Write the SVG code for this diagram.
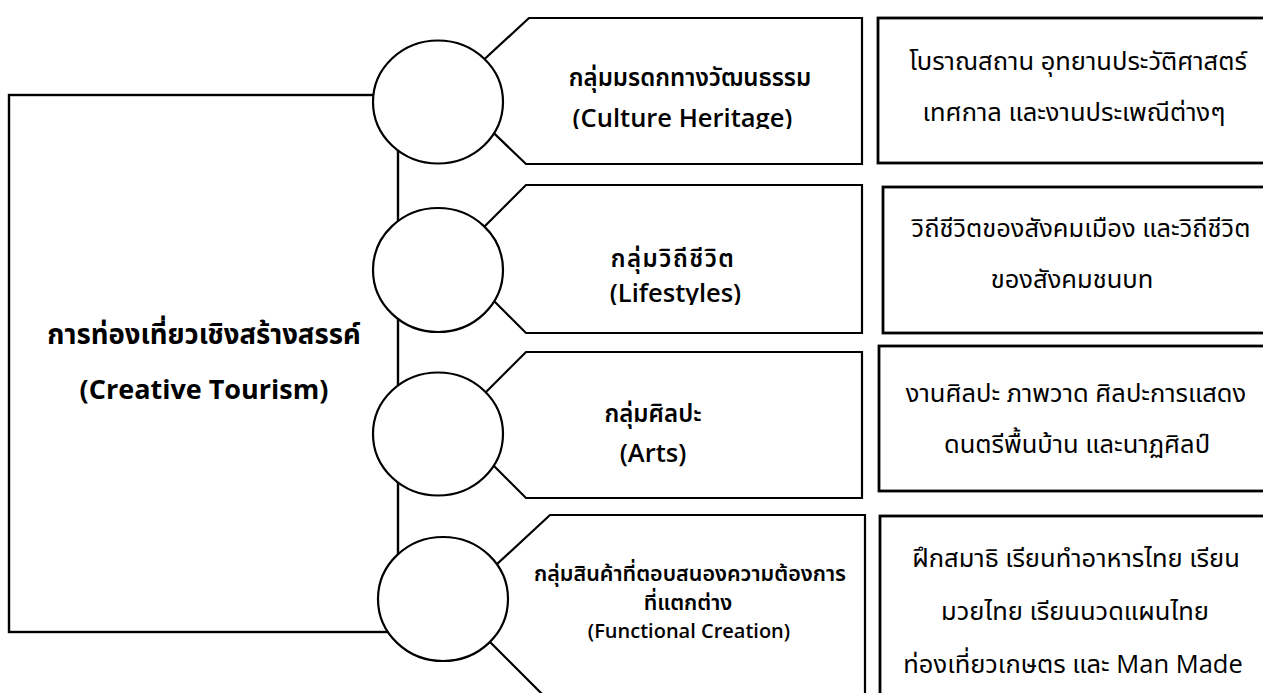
<svg xmlns="http://www.w3.org/2000/svg" width="1263" height="693" viewBox="0 0 1263 693">
  <style>
    .frame{fill:#fff;stroke:#000;stroke-width:2.4}
    .tag{fill:#fff;stroke:#000;stroke-width:2.2;stroke-linejoin:miter}
    .dot{fill:#fff;stroke:#000;stroke-width:2.2}
    .box{fill:#fff;stroke:#000;stroke-width:2.8}
    .t{font-family:"Open Sans","Noto Sans Thai","Noto Sans Thai UI","Leelawadee UI",Tahoma,"Noto Sans",sans-serif;text-anchor:middle;fill:#000}
    .h{font-size:27.5px;font-weight:700}
    .he{font-size:27px;font-weight:700}
    .n{font-size:24px;font-weight:600}
    .ne{font-size:25.5px;font-weight:600}
    .s{font-size:21.5px;font-weight:600}
    .se{font-size:20px;font-weight:600}
    .d{font-size:25.5px;font-weight:400}
  </style>
  <defs>
    <clipPath id="cut1"><rect x="540" y="95" width="300" height="34"/></clipPath>
    <clipPath id="cut2"><rect x="560" y="275" width="240" height="30"/></clipPath>
  </defs>
  <rect width="1263" height="693" fill="#fff"/>

  <!-- central concept -->
  <g id="creative-tourism">
    <rect class="frame" x="9" y="95" width="389" height="537"/>
    <text class="t h" x="204" y="344">การท่องเที่ยวเชิงสร้างสรรค์</text>
    <text class="t he" x="204" y="399">(Creative Tourism)</text>
  </g>

  <!-- category tags -->
  <g id="culture-heritage">
    <polygon class="tag" points="450,91 529,18 862,18 862,164 526,164"/>
    <ellipse class="dot" cx="438" cy="102" rx="65" ry="61.5"/>
    <text class="t n" x="690" y="86">กลุ่มมรดกทางวัฒนธรรม</text>
    <text class="t ne" x="682.5" y="127" clip-path="url(#cut1)">(Culture Heritage)</text>
  </g>
  <g id="lifestyles">
    <polygon class="tag" points="452,259 526,185 862,185 862,333 526,333"/>
    <ellipse class="dot" cx="438" cy="270" rx="65" ry="62"/>
    <text class="t n" x="673" y="267" letter-spacing="1.5">กลุ่มวิถีชีวิต</text>
    <text class="t ne" x="675.5" y="302" clip-path="url(#cut2)">(Lifestyles)</text>
  </g>
  <g id="arts">
    <polygon class="tag" points="453,425 526,352 862,352 862,498 526,498"/>
    <ellipse class="dot" cx="438" cy="434" rx="65" ry="61.5"/>
    <text class="t n" x="653" y="422">กลุ่มศิลปะ</text>
    <text class="t ne" x="653" y="462">(Arts)</text>
  </g>
  <g id="functional-creation">
    <polygon class="tag" points="453,605 550,515 865,515 865,710 558,710"/>
    <ellipse class="dot" cx="443" cy="599" rx="65" ry="62"/>
    <text class="t s" x="690" y="581">กลุ่มสินค้าที่ตอบสนองความต้องการ</text>
    <text class="t s" x="688" y="610">ที่แตกต่าง</text>
    <text class="t se" x="689" y="638">(Functional Creation)</text>
  </g>

  <!-- description boxes -->
  <g id="desc-culture">
    <rect class="box" x="878" y="18" width="420" height="145"/>
    <text class="t d" x="1078" y="70">โบราณสถาน อุทยานประวัติศาสตร์</text>
    <text class="t d" x="1074" y="121">เทศกาล และงานประเพณีต่างๆ</text>
  </g>
  <g id="desc-lifestyles">
    <rect class="box" x="883" y="187" width="420" height="146"/>
    <text class="t d" x="1081" y="237">วิถีชีวิตของสังคมเมือง และวิถีชีวิต</text>
    <text class="t d" x="1072" y="288">ของสังคมชนบท</text>
  </g>
  <g id="desc-arts">
    <rect class="box" x="879" y="346" width="420" height="145"/>
    <text class="t d" x="1076" y="402">งานศิลปะ ภาพวาด ศิลปะการแสดง</text>
    <text class="t d" x="1077" y="453">ดนตรีพื้นบ้าน และนาฏศิลป์</text>
  </g>
  <g id="desc-functional">
    <rect class="box" x="880" y="516" width="420" height="200"/>
    <text class="t d" x="1076" y="567">ฝึกสมาธิ เรียนทำอาหารไทย เรียน</text>
    <text class="t d" x="1075" y="620">มวยไทย เรียนนวดแผนไทย</text>
    <text class="t d" x="1073" y="673">ท่องเที่ยวเกษตร และ Man Made</text>
  </g>
</svg>
